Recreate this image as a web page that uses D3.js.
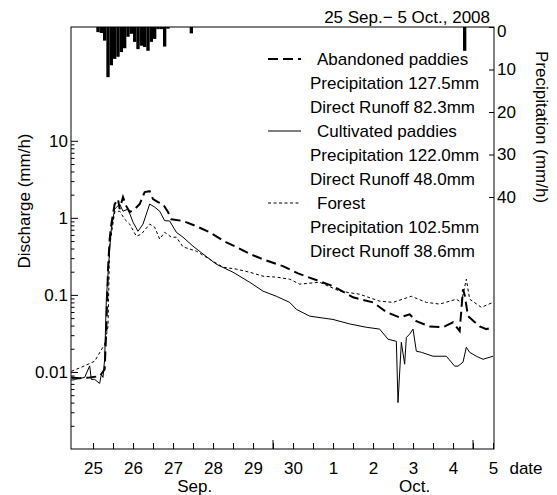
<!DOCTYPE html>
<html>
<head>
<meta charset="utf-8">
<script src="https://cdn.jsdelivr.net/npm/d3@7"></script>
<style>
body { margin: 0; background: #fff; }
text { font-family: "Liberation Sans", Arial, sans-serif; font-size: 17px; fill: #000; }
</style>
</head>
<body>
<div id="chart-area"></div>
<script>

// DISCHARGE + PRECIPITATION, 25 Sep - 5 Oct 2008

// time is in hours from 25 Sep 00:00
const precipHours = [2, 4, 6, 8, 10, 12, 14, 16, 18, 20, 22, 24, 26, 28, 30, 32, 34, 36, 38, 40, 42, 44, 58, 222]
const precipMm = [1.2, 1.4, 3.2, 11.8, 9.0, 7.5, 7.0, 5.9, 5.0, 2.3, 1.6, 3.5, 5.2, 4.4, 4.7, 5.6, 3.5, 2.8, 0.5, 0.5, 4.6, 0.4, 1.5, 5.6]

const abandonedHours = [-13, -8, -2, 4, 7, 8, 9, 10, 11, 13, 15, 16, 18, 20, 22, 25, 28, 31, 34, 36, 39, 42, 45, 47, 54, 62, 70, 80, 86, 94, 102, 114, 123, 144, 156, 168, 176, 184, 190, 194, 202, 210, 216, 220, 222, 223, 225, 232, 236, 240]
const abandonedQ = [0.0085, 0.0083, 0.0085, 0.0088, 0.0108, 0.036, 0.216, 0.53, 0.83, 1.51, 1.75, 1.30, 1.86, 1.42, 1.19, 1.30, 1.51, 2.16, 2.22, 1.75, 1.60, 1.51, 1.19, 0.96, 0.91, 0.78, 0.65, 0.48, 0.42, 0.34, 0.29, 0.236, 0.19, 0.130, 0.093, 0.080, 0.060, 0.051, 0.056, 0.0455, 0.039, 0.038, 0.044, 0.034, 0.118, 0.10, 0.053, 0.039, 0.036, 0.038]

const cultivatedHours = [-13, -11, -5, -2, -1, 1, 4, 5, 6, 7, 8, 10, 11, 13, 16, 18, 21, 24, 27, 30, 34, 37, 40, 43, 46, 50, 54, 60, 66, 74, 84, 94, 102, 110, 118, 122, 130, 144, 154, 164, 172, 177, 182, 183, 185, 187, 188, 190, 192, 194, 197, 204, 212, 217, 219, 222, 224, 226, 230, 234, 240]
const cultivatedQ = [0.0085, 0.0080, 0.0085, 0.012, 0.0080, 0.0080, 0.0071, 0.0093, 0.0085, 0.0146, 0.088, 0.39, 0.72, 1.30, 1.51, 1.22, 1.30, 0.88, 0.67, 0.83, 1.51, 1.38, 1.22, 0.92, 0.91, 0.65, 0.561, 0.429, 0.34, 0.25, 0.197, 0.146, 0.112, 0.096, 0.080, 0.065, 0.053, 0.048, 0.042, 0.038, 0.036, 0.0266, 0.025, 0.0040, 0.0243, 0.0126, 0.028, 0.031, 0.036, 0.0186, 0.018, 0.016, 0.016, 0.0119, 0.0119, 0.0134, 0.0209, 0.018, 0.016, 0.0146, 0.016]

const forestHours = [-13, -7, 1, 7, 9, 10, 13, 16, 19, 22, 26, 29, 34, 37, 40, 43, 47, 50, 54, 62, 70, 78, 86, 94, 102, 110, 118, 124, 136, 148, 160, 172, 180, 191, 200, 208, 218, 221, 224, 226, 233, 240]
const forestQ = [0.0102, 0.0115, 0.0138, 0.0229, 0.039, 0.429, 1.19, 1.22, 0.96, 0.83, 0.578, 0.614, 0.83, 0.757, 0.53, 0.65, 0.561, 0.561, 0.42, 0.37, 0.29, 0.229, 0.216, 0.197, 0.175, 0.170, 0.160, 0.138, 0.146, 0.112, 0.102, 0.083, 0.080, 0.096, 0.080, 0.076, 0.088, 0.080, 0.160, 0.088, 0.069, 0.080]

const dayLabels = ['25', '26', '27', '28', '29', '30', '1', '2', '3', '4', '5']
const qTicks = [0.01, 0.1, 1, 10]
const precipTicks = [0, 10, 20, 30, 40]
const tallTicks = [108, 228]

const legendItems = [
    { name: 'Abandoned paddies', lines: ['Precipitation 127.5mm', 'Direct Runoff 82.3mm'], dash: '10,5', width: 2 },
    { name: 'Cultivated paddies', lines: ['Precipitation 122.0mm', 'Direct Runoff 48.0mm'], dash: null, width: 1 },
    { name: 'Forest', lines: ['Precipitation 102.5mm', 'Direct Runoff 38.6mm'], dash: '3,2.5', width: 1 }
]

// Set up margins
const MARGINS = { TOP: 27, BOTTOM: 46, LEFT: 71, RIGHT: 63 }
const WIDTH = 557 - MARGINS.LEFT - MARGINS.RIGHT
const HEIGHT = 495 - MARGINS.TOP - MARGINS.BOTTOM

// Create SVG
const svg = d3.select("#chart-area").append("svg")
    .attr("width", 557)
    .attr("height", 495)

const g = svg.append("g")
    .attr("transform", `translate(${MARGINS.LEFT}, ${MARGINS.TOP})`)

// Scales
const x = d3.scaleLinear()
    .domain([-13.2, 240.6])
    .range([0, WIDTH])

const y = d3.scaleLog()
    .domain([0.001, 300])
    .range([HEIGHT, 0])

const yP = d3.scaleLinear()
    .domain([0, 40])
    .range([0, 170])

// Precipitation bars hanging from the top
g.selectAll(".rain")
    .data(precipHours)
    .enter().append("rect")
    .attr("class", "rain")
    .attr("x", d => x(d))
    .attr("y", yP(0))
    .attr("width", d => x(d + 2) - x(d))
    .attr("height", (d, i) => yP(precipMm[i]))
    .attr("fill", "#000")

// Frame
g.append("rect")
    .attr("width", WIDTH)
    .attr("height", HEIGHT)
    .attr("fill", "none")
    .attr("stroke", "#000")
    .attr("stroke-width", 1)

// Left axis (log)
let minorTicks = []
;[0.001, 0.01, 0.1, 1].forEach(base => {
    for (let k = 2; k <= 9; k++) minorTicks.push(base * k)
})

const yAxis = d3.axisLeft(y)
    .tickValues(qTicks)
    .tickFormat(d => String(d))
    .tickSize(-7)
    .tickPadding(3)
    .tickSizeOuter(0)
g.append("g").attr("class", "y-axis").call(yAxis)
    .select(".domain").remove()

const yMinor = d3.axisLeft(y)
    .tickValues(minorTicks)
    .tickFormat("")
    .tickSize(-3.5)
    .tickSizeOuter(0)
g.append("g").attr("class", "y-minor").call(yMinor)
    .select(".domain").remove()

// Right axis (precipitation)
const pAxis = d3.axisRight(yP)
    .tickValues(precipTicks)
    .tickSize(-5)
    .tickPadding(3)
    .tickSizeOuter(0)
const pAxisG = g.append("g")
    .attr("class", "p-axis")
    .attr("transform", `translate(${WIDTH}, 0)`)
    .call(pAxis)
pAxisG.select(".domain").remove()
pAxisG.selectAll(".tick").filter(d => d === 0).select("text").attr("y", 4)

// Bottom axis, a tick every 12 hours
const halfDays = d3.range(0, 241, 12)
const xAxis = d3.axisBottom(x)
    .tickValues(halfDays)
    .tickFormat(d => d % 24 === 0 ? dayLabels[d / 24] : "")
    .tickSize(-6)
    .tickPadding(13)
    .tickSizeOuter(0)
g.append("g")
    .attr("class", "x-axis")
    .attr("transform", `translate(0, ${HEIGHT})`)
    .call(xAxis)
    .select(".domain").remove()

g.selectAll(".tall-tick")
    .data(tallTicks)
    .enter().append("line")
    .attr("x1", d => x(d))
    .attr("x2", d => x(d))
    .attr("y1", HEIGHT)
    .attr("y2", HEIGHT - 9)
    .attr("stroke", "#000")

g.selectAll(".axis-line").remove()

// Discharge lines
const line = d3.line()
    .x(d => x(d.h))
    .y(d => y(d.q))

const series = [
    { hours: abandonedHours, q: abandonedQ, dash: '10,5', width: 2 },
    { hours: cultivatedHours, q: cultivatedQ, dash: null, width: 1 },
    { hours: forestHours, q: forestQ, dash: '3,2.5', width: 1 }
]

series.forEach(s => {
    g.append("path")
        .datum(s.hours.map((h, i) => ({ h: h, q: s.q[i] })))
        .attr("d", line)
        .attr("fill", "none")
        .attr("stroke", "#000")
        .attr("stroke-width", s.width)
        .attr("stroke-dasharray", s.dash)
})

// Legend
const legend = svg.append("g").attr("class", "legend")
legendItems.forEach((item, i) => {
    const base = 65 + i * 72
    legend.append("line")
        .attr("x1", 268)
        .attr("x2", 301)
        .attr("y1", base - 6)
        .attr("y2", base - 6)
        .attr("stroke", "#000")
        .attr("stroke-width", item.width)
        .attr("stroke-dasharray", item.dash)
    legend.append("text")
        .attr("x", 317)
        .attr("y", base)
        .text(item.name)
    item.lines.forEach((t, j) => {
        legend.append("text")
            .attr("x", 310)
            .attr("y", base + 24 * (j + 1))
            .text(t)
    })
})

// Titles and labels
svg.append("text")
    .attr("x", 490)
    .attr("y", 23)
    .attr("text-anchor", "end")
    .text("25 Sep.\u2212 5 Oct., 2008")

svg.append("text")
    .attr("transform", "translate(30, 201) rotate(-90)")
    .attr("text-anchor", "middle")
    .text("Discharge (mm/h)")

svg.append("text")
    .attr("transform", "translate(536, 127) rotate(90)")
    .attr("text-anchor", "middle")
    .text("Precipitation (mm/h)")

svg.append("text")
    .attr("x", 526)
    .attr("y", 474)
    .attr("text-anchor", "middle")
    .text("date")

svg.append("text")
    .attr("x", MARGINS.LEFT + x(61))
    .attr("y", 492)
    .attr("text-anchor", "middle")
    .text("Sep.")

svg.append("text")
    .attr("x", MARGINS.LEFT + x(193))
    .attr("y", 492)
    .attr("text-anchor", "middle")
    .text("Oct.")

</script>
</body>
</html>
